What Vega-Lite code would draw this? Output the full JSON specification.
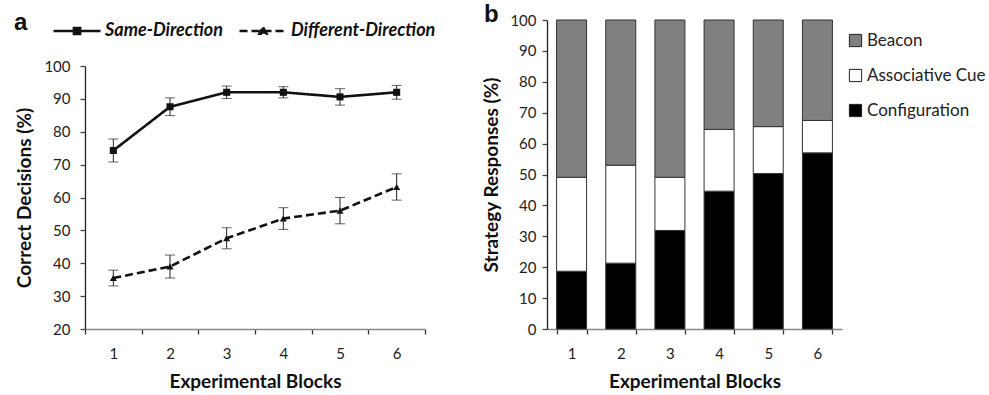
{
  "$schema": "https://vega.github.io/schema/vega-lite/v6.json",
  "background": "white",
  "padding": {"left": 14, "top": 3, "right": 5, "bottom": 5},
  "config": {
    "font": "Lato",
    "view": {"stroke": null},
    "axis": {
      "grid": false,
      "labelFont": "Lato", "labelFontSize": 15, "labelColor": "#222",
      "titleFont": "Lato", "titleFontSize": 19, "titleFontWeight": "bold", "titleColor": "#111",
      "tickSize": 5, "domainWidth": 1.3, "tickWidth": 1.3
    },
    "axisX": {"domainColor": "#888", "tickColor": "#333", "labelPadding": 12, "titlePadding": 11, "labelAngle": 0},
    "axisY": {"domainColor": "#222", "tickColor": "#444", "labelOverlap": false}
  },
  "datasets": {
    "lines": [
      {"block": 1, "series": "Same-Direction", "pct": 74.3, "lo": 70.8, "hi": 77.8},
      {"block": 2, "series": "Same-Direction", "pct": 87.6, "lo": 84.9, "hi": 90.3},
      {"block": 3, "series": "Same-Direction", "pct": 92.0, "lo": 90.1, "hi": 93.9},
      {"block": 4, "series": "Same-Direction", "pct": 92.0, "lo": 90.3, "hi": 93.7},
      {"block": 5, "series": "Same-Direction", "pct": 90.6, "lo": 88.1, "hi": 93.1},
      {"block": 6, "series": "Same-Direction", "pct": 92.0, "lo": 89.9, "hi": 94.1},
      {"block": 1, "series": "Different-Direction", "pct": 35.5, "lo": 33.1, "hi": 37.9},
      {"block": 2, "series": "Different-Direction", "pct": 39.0, "lo": 35.5, "hi": 42.5},
      {"block": 3, "series": "Different-Direction", "pct": 47.6, "lo": 44.4, "hi": 50.8},
      {"block": 4, "series": "Different-Direction", "pct": 53.6, "lo": 50.3, "hi": 56.9},
      {"block": 5, "series": "Different-Direction", "pct": 56.0, "lo": 52.0, "hi": 60.0},
      {"block": 6, "series": "Different-Direction", "pct": 63.2, "lo": 59.2, "hi": 67.2}
    ],
    "strategies": [
      {"block": 1, "strategy": "Configuration", "pct": 18.7},
      {"block": 1, "strategy": "Associative Cue", "pct": 30.4},
      {"block": 1, "strategy": "Beacon", "pct": 50.9},
      {"block": 2, "strategy": "Configuration", "pct": 21.3},
      {"block": 2, "strategy": "Associative Cue", "pct": 31.7},
      {"block": 2, "strategy": "Beacon", "pct": 47.0},
      {"block": 3, "strategy": "Configuration", "pct": 31.9},
      {"block": 3, "strategy": "Associative Cue", "pct": 17.2},
      {"block": 3, "strategy": "Beacon", "pct": 50.9},
      {"block": 4, "strategy": "Configuration", "pct": 44.6},
      {"block": 4, "strategy": "Associative Cue", "pct": 20.0},
      {"block": 4, "strategy": "Beacon", "pct": 35.4},
      {"block": 5, "strategy": "Configuration", "pct": 50.3},
      {"block": 5, "strategy": "Associative Cue", "pct": 15.2},
      {"block": 5, "strategy": "Beacon", "pct": 34.5},
      {"block": 6, "strategy": "Configuration", "pct": 57.0},
      {"block": 6, "strategy": "Associative Cue", "pct": 10.5},
      {"block": 6, "strategy": "Beacon", "pct": 32.5}
    ]
  },
  "bounds": "flush",
  "spacing": 122,
  "hconcat": [
    {
      "width": 340,
      "height": 309,
      "data": {"name": "lines"},
      "layer": [
        {
          "mark": {"type": "rule", "color": "#222", "strokeWidth": 1},
          "encoding": {
            "x": {"field": "block", "type": "ordinal", "bandPosition": 0.5,
                  "scale": {"type": "band", "paddingInner": 0, "paddingOuter": 0},
                  "axis": {"tickBand": "extent"}, "title": "Experimental Blocks"},
            "y": {"field": "lo", "type": "quantitative",
                  "scale": {"domain": [20, 100], "range": [309, 46]},
                  "axis": {"values": [20, 30, 40, 50, 60, 70, 80, 90, 100], "labelPadding": 10, "titlePadding": 9},
                  "title": "Correct Decisions (%)"},
            "y2": {"field": "hi"},
            "detail": {"field": "series"}
          }
        },
        {
          "mark": {"type": "tick", "color": "#222", "size": 10, "thickness": 1},
          "encoding": {
            "x": {"field": "block", "type": "ordinal", "bandPosition": 0.5, "axis": {"tickBand": "extent"}, "title": "Experimental Blocks"},
            "y": {"field": "lo", "type": "quantitative", "axis": {"values": [20, 30, 40, 50, 60, 70, 80, 90, 100], "labelPadding": 10, "titlePadding": 9}, "title": "Correct Decisions (%)"}
          }
        },
        {
          "mark": {"type": "tick", "color": "#222", "size": 10, "thickness": 1},
          "encoding": {
            "x": {"field": "block", "type": "ordinal", "bandPosition": 0.5, "axis": {"tickBand": "extent"}, "title": "Experimental Blocks"},
            "y": {"field": "hi", "type": "quantitative", "axis": {"values": [20, 30, 40, 50, 60, 70, 80, 90, 100], "labelPadding": 10, "titlePadding": 9}, "title": "Correct Decisions (%)"}
          }
        },
        {
          "mark": {"type": "line", "color": "#111", "strokeWidth": 2.6},
          "encoding": {
            "x": {"field": "block", "type": "ordinal", "bandPosition": 0.5, "axis": {"tickBand": "extent"}, "title": "Experimental Blocks"},
            "y": {"field": "pct", "type": "quantitative", "axis": {"values": [20, 30, 40, 50, 60, 70, 80, 90, 100], "labelPadding": 10, "titlePadding": 9}, "title": "Correct Decisions (%)"},
            "strokeDash": {
              "field": "series", "type": "nominal",
              "scale": {"domain": ["Same-Direction", "Different-Direction"], "range": [[1, 0], [8, 4]]},
              "legend": {
                "orient": "none", "legendX": -71, "legendY": -14, "direction": "horizontal",
                "title": "a", "titleOrient": "left", "titleFont": "Liberation Sans", "titleFontSize": 24,
                "titleFontWeight": "bold", "titleColor": "#111", "titlePadding": 24,
                "labelFont": "Lato", "labelFontSize": 18, "labelFontStyle": "italic", "labelFontWeight": "bold",
                "labelColor": "#111", "labelOffset": 3, "columnPadding": 11,
                "symbolSize": 2209, "symbolStrokeWidth": 2.6, "symbolStrokeColor": "#111",
                "encode": {
                  "symbols": {
                    "update": {
                      "shape": {"signal": "datum.value === 'Same-Direction' ? 'M-1,0L1,0M-0.13,-0.13L0.13,-0.13L0.13,0.13L-0.13,0.13Z' : 'M-1,0L1,0M0,-0.16L0.15,0.12L-0.15,0.12Z'"},
                      "fill": {"value": "#111"},
                      "stroke": {"value": "#111"}
                    }
                  }
                }
              }
            }
          }
        },
        {
          "mark": {"type": "point", "filled": true, "color": "#111", "size": 50, "opacity": 1},
          "encoding": {
            "x": {"field": "block", "type": "ordinal", "bandPosition": 0.5, "axis": {"tickBand": "extent"}, "title": "Experimental Blocks"},
            "y": {"field": "pct", "type": "quantitative", "axis": {"values": [20, 30, 40, 50, 60, 70, 80, 90, 100], "labelPadding": 10, "titlePadding": 9}, "title": "Correct Decisions (%)"},
            "shape": {"field": "series", "type": "nominal",
                      "scale": {"domain": ["Different-Direction", "Same-Direction"], "range": ["triangle-up", "square"]},
                      "legend": null}
          }
        }
      ]
    },
    {
      "width": 295,
      "height": 309,
      "title": {"text": "b", "anchor": "start", "frame": "bounds", "offset": -14, "dx": 1,
                "font": "Liberation Sans", "fontSize": 24, "fontWeight": "bold", "color": "#111"},
      "data": {"name": "strategies"},
      "transform": [
        {"calculate": "indexof(['Configuration','Associative Cue','Beacon'], datum.strategy)", "as": "stack_order"}
      ],
      "mark": {"type": "bar", "stroke": "#333", "strokeWidth": 1},
      "encoding": {
        "x": {"field": "block", "type": "ordinal",
              "scale": {"type": "band", "paddingInner": 0.39, "paddingOuter": 0.195},
              "axis": {"tickBand": "extent"}, "title": "Experimental Blocks"},
        "y": {"field": "pct", "type": "quantitative", "stack": "zero",
              "scale": {"domain": [0, 100]},
              "axis": {"values": [0, 10, 20, 30, 40, 50, 60, 70, 80, 90, 100], "labelPadding": 6, "titlePadding": 8},
              "title": "Strategy Responses (%)"},
        "color": {"field": "strategy", "type": "nominal",
                  "scale": {"domain": ["Beacon", "Associative Cue", "Configuration"], "range": ["#808080", "#ffffff", "#000000"]},
                  "legend": {"orient": "none", "legendX": 762, "legendY": 12, "title": null,
                             "symbolType": "square", "symbolSize": 150, "symbolStrokeColor": "#222", "symbolStrokeWidth": 1,
                             "labelFont": "Lato", "labelFontSize": 17, "labelColor": "#222", "labelOffset": 3,
                             "rowPadding": 17}},
        "order": {"field": "stack_order", "type": "quantitative"}
      }
    }
  ]
}
